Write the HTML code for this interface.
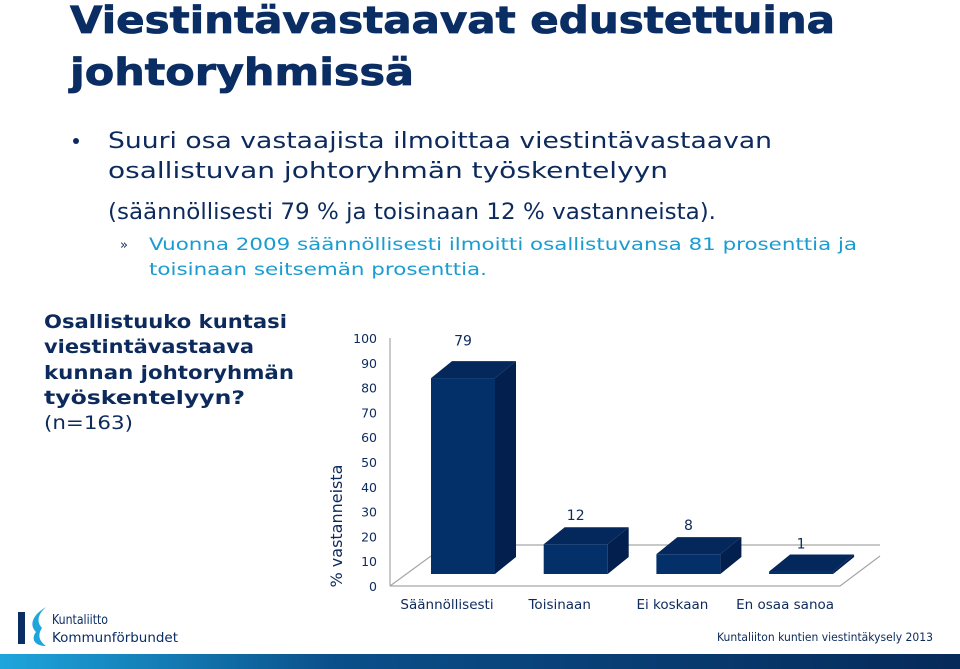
<!DOCTYPE html>
<html><head><meta charset="utf-8"><style>
html,body{margin:0;padding:0;background:#fff;}
svg{display:block;font-family:"DejaVu Sans","Liberation Sans",sans-serif;}
</style></head><body>
<svg id="slide" width="960" height="669" viewBox="0 0 960 669">
<defs>
<linearGradient id="fg" x1="0" x2="1" y1="0" y2="0">
<stop offset="0" stop-color="#1ea6dc"/><stop offset="0.35" stop-color="#0a4f8a"/><stop offset="1" stop-color="#062a5a"/>
</linearGradient>
</defs>
<g fill="#0a2d64" font-weight="bold" font-size="37" stroke="#0a2d64" stroke-width="0.8">
<text x="70" y="33" textLength="765" lengthAdjust="spacingAndGlyphs">Viestintävastaavat edustettuina</text>
<text x="70" y="85" textLength="344" lengthAdjust="spacingAndGlyphs">johtoryhmissä</text>
</g>
<g fill="#0d2a5c" font-size="22">
<circle cx="76" cy="141" r="3" fill="#0d2a5c"/>
<text x="108" y="148" textLength="664" lengthAdjust="spacingAndGlyphs">Suuri osa vastaajista ilmoittaa viestintävastaavan</text>
<text x="108" y="178" textLength="560" lengthAdjust="spacingAndGlyphs">osallistuvan johtoryhmän työskentelyyn</text>
<text x="108" y="219" textLength="608" lengthAdjust="spacingAndGlyphs">(säännöllisesti 79 % ja toisinaan 12 % vastanneista).</text>
</g>
<g fill="#1a9cd0" font-size="17">
<text x="120" y="249" fill="#0d2a5c" font-size="13">»</text>
<text x="149" y="250" textLength="708" lengthAdjust="spacingAndGlyphs">Vuonna 2009 säännöllisesti ilmoitti osallistuvansa 81 prosenttia ja</text>
<text x="149" y="275" textLength="338" lengthAdjust="spacingAndGlyphs">toisinaan seitsemän prosenttia.</text>
</g>
<g fill="#0d2a5c" font-size="19">
<text x="44" y="328" font-weight="bold" textLength="243" lengthAdjust="spacingAndGlyphs">Osallistuuko kuntasi</text>
<text x="44" y="353" font-weight="bold" textLength="210" lengthAdjust="spacingAndGlyphs">viestintävastaava</text>
<text x="44" y="379" font-weight="bold" textLength="250" lengthAdjust="spacingAndGlyphs">kunnan johtoryhmän</text>
<text x="44" y="404" font-weight="bold" textLength="201" lengthAdjust="spacingAndGlyphs">työskentelyyn?</text>
<text x="44" y="429" textLength="89" lengthAdjust="spacingAndGlyphs">(n=163)</text>
</g>
<g id="chart"></g>
<g>
<rect x="18" y="612" width="7" height="32" fill="#0a2d64"/>
<path d="M46,607 C34,614 28,624 36,632 C30,640 36,646 46,646 C38,640 38,634 42,628 C36,622 38,614 46,607Z" fill="#1ea6dc"/>
<text x="52" y="624" font-size="13" fill="#0a2d64" textLength="56" lengthAdjust="spacingAndGlyphs">Kuntaliitto</text>
<text x="52" y="642" font-size="13" fill="#0a2d64" textLength="126" lengthAdjust="spacingAndGlyphs">Kommunförbundet</text>
</g>
<text x="717" y="641" font-size="11.5" fill="#0d2a5c" textLength="216" lengthAdjust="spacingAndGlyphs">Kuntaliiton kuntien viestintäkysely 2013</text>
<rect x="0" y="654" width="960" height="15" fill="url(#fg)"/>
</svg>
<script>
const categories = ["Säännöllisesti","Toisinaan","Ei koskaan","En osaa sanoa"];
const values = [79,12,8,1];
const tickLabels = [0,10,20,30,40,50,60,70,80,90,100];

const NS="http://www.w3.org/2000/svg";
const g=document.getElementById('chart');
function el(tag,attrs,parent){const e=document.createElementNS(NS,tag);for(const k in attrs)e.setAttribute(k,attrs[k]);(parent||g).appendChild(e);return e;}
const axY0=586, axTop=338, axX=390;
const yTick=v=>axY0-(v/100)*(axY0-axTop);
const barBase=574, pxPer=2.48;
const bh=v=>v*pxPer;
const xBar=i=>431+i*112.7;
const bw=64, dx=21, dy=17;

const floor=el('path',{d:`M${axX},${axY0} L840,${axY0} L880,556 M${axX},${axY0} L431,556`,fill:'none',stroke:'#a6a6a6','stroke-width':1.2});


const back=el('line',{x1:500,y1:545,x2:880,y2:545,stroke:'#a6a6a6','stroke-width':1.2});


const yax=el('line',{x1:axX,y1:axTop,x2:axX,y2:axY0,stroke:'#a6a6a6','stroke-width':1.2});



tickLabels.forEach(t=>{
  const tx=el('text',{x:377,y:yTick(t)+5,'text-anchor':'end','font-size':12.5,fill:'#0d2a5c'});
  
  
  tx.textContent=t;
});
const yt=el('text',{x:0,y:0,'font-size':16,fill:'#0d2a5c',transform:'translate(342,526) rotate(-90)','text-anchor':'middle'});


yt.textContent='% vastanneista';

values.forEach((v,i)=>{
  const x=xBar(i), h=bh(v), top=barBase-h;
  const bar=el('g',{});
  
  
  el('path',{d:`M${x+bw},${barBase} L${x+bw+dx},${barBase-dy} L${x+bw+dx},${top-dy} L${x+bw},${top}Z`,fill:'#021f4d'},bar);
  el('path',{d:`M${x},${top} L${x+dx},${top-dy} L${x+bw+dx},${top-dy} L${x+bw},${top}Z`,fill:'#04285c'},bar);
  el('rect',{x:x,y:top,width:bw,height:h,fill:'#04306a'},bar);
  const lb=el('text',{x:x+32,y:barBase-23-h*1.05,'text-anchor':'middle','font-size':14,fill:'#0d2a5c'});
  
  
  lb.textContent=v;
  const cl=el('text',{x:x+16,y:609,'text-anchor':'middle','font-size':13.5,fill:'#0d2a5c'});
  
  
  cl.textContent=categories[i];
});
</script>
</body></html>
